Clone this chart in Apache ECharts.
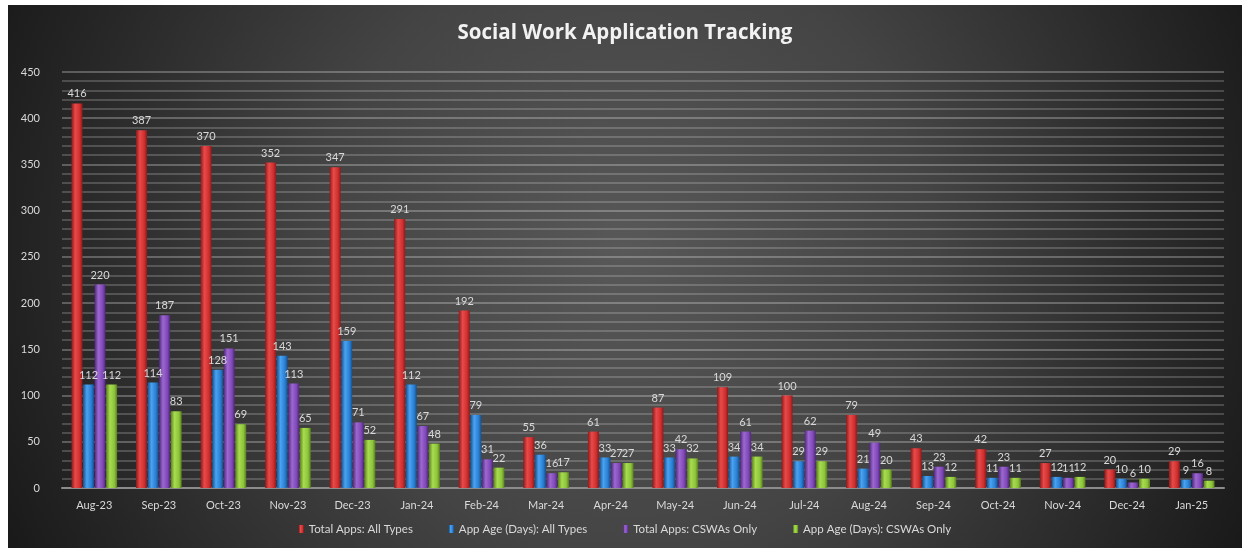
<!DOCTYPE html>
<html>
<head>
<meta charset="utf-8">
<script src="https://cdn.jsdelivr.net/npm/echarts@6/dist/echarts.min.js"></script>
<style>
  html, body { margin: 0; padding: 0; background: #fff; }
  #main { position: absolute; left: 8px; top: 5px; width: 1234px; height: 543px; }
</style>
</head>
<body>
<div id="main"></div>
<script>
var months = ['Aug-23','Sep-23','Oct-23','Nov-23','Dec-23','Jan-24','Feb-24','Mar-24','Apr-24','May-24','Jun-24','Jul-24','Aug-24','Sep-24','Oct-24','Nov-24','Dec-24','Jan-25'];
var totalAll = [416,387,370,352,347,291,192,55,61,87,109,100,79,43,42,27,20,29];
var ageAll   = [112,114,128,143,159,112,79,36,33,33,34,29,21,13,11,12,10,9];
var totalCswa = [220,187,151,113,71,67,31,16,27,42,61,62,49,23,23,11,6,16];
var ageCswa  = [112,83,69,65,52,48,22,17,27,32,34,29,20,12,11,12,10,8];

var font = 'Lato, "Open Sans", sans-serif';

// fake 3d shading: dark edge, bright middle
function shade(dark, mid, light) {
  return new echarts.graphic.LinearGradient(0, 0, 1, 0, [
    { offset: 0, color: dark },
    { offset: 0.35, color: light },
    { offset: 0.75, color: mid },
    { offset: 1, color: dark }
  ]);
}

function barSeries(name, data, color) {
  return {
    name: name,
    type: 'bar',
    data: data,
    barWidth: 11,
    barGap: '5%',
    itemStyle: { color: color },
    label: {
      show: true,
      position: 'top',
      color: '#d9d9d9',
      fontSize: 11,
      fontFamily: font,
      distance: 4
    }
  };
}

var myChart = echarts.init(document.getElementById('main'));

option = {
  backgroundColor: new echarts.graphic.RadialGradient(0.5, 0.45, 1.25, [
    { offset: 0, color: '#585858' },
    { offset: 0.45, color: '#444444' },
    { offset: 1, color: '#1a1a1a' }
  ]),
  color: ['#d83333', '#2e86de', '#8a4fc0', '#95c93d'],
  title: {
    text: 'Social Work Application Tracking',
    left: 'center',
    top: 13,
    textStyle: { color: '#f2f2f2', fontSize: 20.5, fontWeight: 'bold', fontFamily: '"Open Sans", sans-serif' }
  },
  legend: {
    bottom: 8,
    itemWidth: 5,
    itemHeight: 8,
    itemGap: 36,
    icon: 'rect',
    textStyle: { color: '#d9d9d9', fontSize: 11.5, fontFamily: font },
    data: ['Total Apps: All Types', 'App Age (Days): All Types', 'Total Apps: CSWAs Only', 'App Age (Days): CSWAs Only']
  },
  grid: { left: 54, right: 18, top: 67, bottom: 60 },
  xAxis: {
    type: 'category',
    data: months,
    axisLine: { show: true, lineStyle: { color: '#8c8c8c', width: 2 } },
    axisTick: { show: false },
    axisLabel: { color: '#d9d9d9', fontSize: 11, fontFamily: font, margin: 12 }
  },
  yAxis: {
    type: 'value',
    min: 0,
    max: 450,
    interval: 50,
    axisLine: { show: false },
    axisTick: { show: false },
    axisLabel: { color: '#d9d9d9', fontSize: 11, fontFamily: font, margin: 22 },
    splitLine: { show: true, lineStyle: { color: 'rgba(255,255,255,0.35)', width: 1.5 } },
    minorTick: { show: false, splitNumber: 5 },
    minorSplitLine: { show: true, lineStyle: { color: 'rgba(255,255,255,0.25)', width: 1.5 } }
  },
  series: [
    barSeries('Total Apps: All Types', totalAll, shade('#8e1a1a', '#cf2f2f', '#e84a4a')),
    barSeries('App Age (Days): All Types', ageAll, shade('#164f8c', '#2a7fd4', '#4aa3f0')),
    barSeries('Total Apps: CSWAs Only', totalCswa, shade('#4e2878', '#8048b8', '#9c68d0')),
    barSeries('App Age (Days): CSWAs Only', ageCswa, shade('#5a7e1e', '#8cc43a', '#a8dc50'))
  ]
};
myChart.setOption(option);
</script>
</body>
</html>
